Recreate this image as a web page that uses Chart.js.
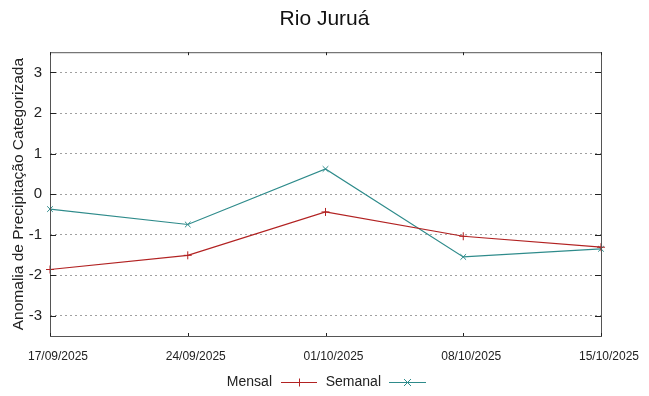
<!DOCTYPE html>
<html>
<head>
<meta charset="utf-8">
<script src="https://cdn.jsdelivr.net/npm/chart.js@4/dist/chart.umd.min.js"></script>
<style>
  html, body { margin: 0; padding: 0; background: #fff; }
  #wrap { width: 649px; height: 396px; }
</style>
</head>
<body>
<div id="wrap"><canvas id="chart" width="649" height="396"></canvas></div>
<script>
// data
const dates = ["17/09/2025", "24/09/2025", "01/10/2025", "08/10/2025", "15/10/2025"];
const mensal = [-1.86, -1.51, -0.44, -1.04, -1.31];
const semanal = [-0.37, -0.75, 0.62, -1.55, -1.35];
const yTicks = [-3, -2, -1, 0, 1, 2, 3];

const RED = "rgb(178, 34, 34)";
const TEAL = "rgb(46, 139, 139)";
const FONT = "'Liberation Sans', Arial, sans-serif";

// frame + inward ticks + gnuplot-like legend
const framePlugin = {
    id: "frame",
    afterDraw(chart) {
        const {ctx, chartArea: a, scales} = chart;
        ctx.save();
        ctx.strokeStyle = "#555";
        ctx.lineWidth = 1;
        ctx.strokeRect(a.left + 0.5, a.top + 0.5, a.right - a.left, a.bottom - a.top);
        ctx.strokeStyle = "#222";
        yTicks.forEach(v => {
            const y = Math.round(scales.y.getPixelForValue(v)) + 0.5;
            ctx.beginPath();
            ctx.moveTo(a.left, y); ctx.lineTo(a.left + 6, y);
            ctx.moveTo(a.right, y); ctx.lineTo(a.right - 6, y);
            ctx.stroke();
        });
        dates.forEach((d, i) => {
            const x = Math.round(scales.x.getPixelForValue(i)) + 0.5;
            ctx.beginPath();
            ctx.moveTo(x, a.bottom); ctx.lineTo(x, a.bottom - 3);
            ctx.moveTo(x, a.top); ctx.lineTo(x, a.top + 3);
            ctx.stroke();
        });

        // legend
        const ly = 382.5;
        ctx.font = "14px " + FONT;
        ctx.fillStyle = "#222";
        ctx.textBaseline = "middle";
        ctx.textAlign = "right";
        ctx.fillText("Mensal", 272, ly);
        ctx.fillText("Semanal", 381, ly);
        ctx.lineWidth = 1;
        ctx.strokeStyle = RED;
        ctx.beginPath();
        ctx.moveTo(281, ly); ctx.lineTo(317, ly);
        ctx.moveTo(299.5, ly - 4); ctx.lineTo(299.5, ly + 4);
        ctx.stroke();
        ctx.strokeStyle = TEAL;
        ctx.beginPath();
        ctx.moveTo(389, ly); ctx.lineTo(426, ly);
        ctx.moveTo(404, ly - 3.5); ctx.lineTo(411, ly + 3.5);
        ctx.moveTo(404, ly + 3.5); ctx.lineTo(411, ly - 3.5);
        ctx.stroke();
        ctx.restore();
    }
};

new Chart(document.getElementById("chart").getContext("2d"), {
    type: "line",
    data: {
        labels: dates,
        datasets: [
            {
                label: "Mensal",
                data: mensal,
                borderColor: RED,
                backgroundColor: RED,
                borderWidth: 1.2,
                pointStyle: "cross",
                pointRadius: 4,
                pointBorderWidth: 1,
                tension: 0,
                fill: false
            },
            {
                label: "Semanal",
                data: semanal,
                borderColor: TEAL,
                backgroundColor: TEAL,
                borderWidth: 1.2,
                pointStyle: "crossRot",
                pointRadius: 4,
                pointBorderWidth: 1,
                tension: 0,
                fill: false
            }
        ]
    },
    options: {
        responsive: false,
        animation: false,
        layout: {padding: {left: 0, right: 0, top: 0, bottom: 30}},
        plugins: {
            legend: {display: false},
            tooltip: {enabled: false},
            title: {
                display: true,
                text: "Rio Juruá",
                color: "#111",
                font: {family: FONT, size: 21, weight: "normal"},
                padding: {top: 7, bottom: 20}
            }
        },
        scales: {
            x: {
                type: "category",
                offset: false,
                afterFit(s) { s.height = 30; },
                grid: {display: false, drawTicks: false},
                border: {display: false},
                ticks: {
                    color: "#222",
                    font: {family: FONT, size: 12},
                    padding: 13,
                    maxRotation: 0,
                    autoSkip: false,
                    labelOffset: 8
                }
            },
            y: {
                min: -3.5,
                max: 3.5,
                afterFit(s) { s.width = 50; },
                afterBuildTicks(s) { s.ticks = yTicks.map(v => ({value: v})); },
                grid: {
                    color: "#a0a0a0",
                    lineWidth: 1,
                    drawTicks: false
                },
                border: {display: false, dash: [2, 3]},
                ticks: {
                    color: "#222",
                    font: {family: FONT, size: 15},
                    padding: 8
                },
                title: {
                    display: true,
                    text: "Anomalia de Precipitação Categorizada",
                    color: "#222",
                    font: {family: FONT, size: 15.5},
                    padding: {top: 9, bottom: 0}
                }
            },
            yRight: {
                position: "right",
                min: -3.5,
                max: 3.5,
                afterFit(s) { s.width = 48; },
                grid: {display: false, drawTicks: false},
                border: {display: false},
                ticks: {display: false}
            }
        }
    },
    plugins: [framePlugin]
});
</script>
</body>
</html>
